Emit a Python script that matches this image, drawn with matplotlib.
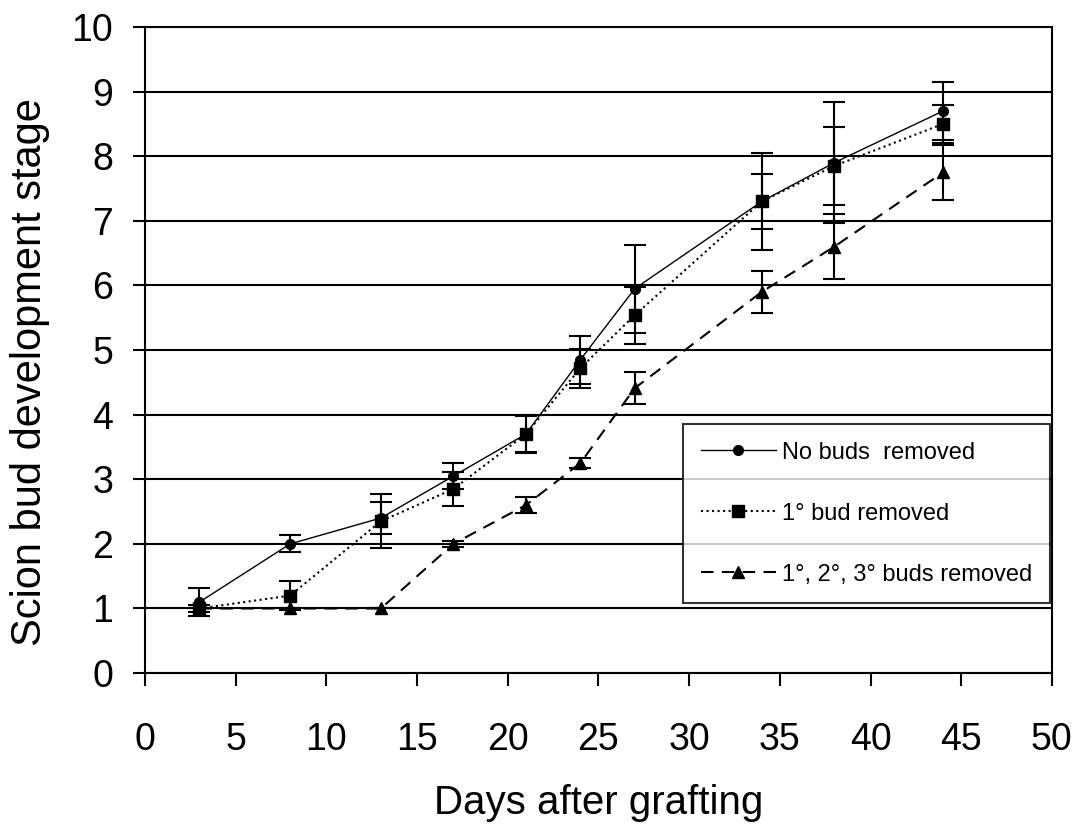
import matplotlib
matplotlib.use("Agg")
import matplotlib.pyplot as plt

plt.rcParams['font.family'] = ['Liberation Sans', 'DejaVu Sans']

# days after grafting
days = [3, 8, 13, 17, 21, 24, 27, 34, 38, 44]

# bud development stage, mean and error
no_buds = [1.1, 2.0, 2.4, 3.05, 3.7, 4.85, 5.95, 7.3, 7.9, 8.7]
no_buds_err = [0.22, 0.13, 0.25, 0.2, 0.28, 0.37, 0.68, 0.75, 0.94, 0.45]

one_bud = [1.0, 1.2, 2.35, 2.85, 3.7, 4.72, 5.54, 7.3, 7.85, 8.5]
one_bud_err = [0.05, 0.22, 0.42, 0.27, 0.3, 0.3, 0.44, 0.42, 0.6, 0.3]

three_buds = [1.0, 1.0, 1.0, 2.0, 2.6, 3.25, 4.41, 5.9, 6.6, 7.75]
three_buds_err = [0.0, 0.0, 0.0, 0.05, 0.12, 0.08, 0.25, 0.32, 0.5, 0.42]

labels = ['No buds  removed', '1° bud removed', '1°, 2°, 3° buds removed']

fig = plt.figure(figsize=(10.8, 8.31), dpi=100)
ax = fig.add_axes([0.1343, 0.190, 0.8397, 0.7775])

for y in range(0, 11):
    ax.axhline(y, color='black', lw=1.5, zorder=0)

l1 = ax.errorbar(days, no_buds, yerr=no_buds_err, color='black', ls='-', lw=1.0,
                 marker='o', ms=7, capsize=8, elinewidth=1.5, capthick=1.5,
                 label=labels[0])
l2 = ax.errorbar(days, one_bud, yerr=one_bud_err, color='black', ls=':', lw=1.5,
                 marker='s', ms=8, capsize=8, elinewidth=1.5, capthick=1.5,
                 label=labels[1])
l3 = ax.errorbar(days, three_buds, yerr=three_buds_err, color='black', ls=(0, (6, 4)),
                 lw=1.5, marker='^', ms=8, capsize=8, elinewidth=1.5, capthick=1.5,
                 label=labels[2])

ax.set_xlim(0, 50)
ax.set_ylim(0, 10)
ax.set_xticks(range(0, 51, 5))
ax.set_yticks(range(0, 11))
ax.tick_params(axis='both', direction='out', length=9, width=1.5, labelsize=27,
               pad=14)
ax.tick_params(axis='x', pad=26)
for s in ax.spines.values():
    s.set_linewidth(1.5)

ax.set_xlabel('Days after grafting', fontsize=29, labelpad=19)
ax.set_ylabel('Scion bud development stage', fontsize=30)
ax.yaxis.set_label_coords(-0.105, 0.466)

handles = [h[0] for h in (l1, l2, l3)]
leg = ax.legend(handles, labels, loc='lower right', bbox_to_anchor=(0.998, 0.108),
                fontsize=17, frameon=True, fancybox=False, edgecolor='black',
                handlelength=3.2, numpoints=1, labelspacing=1.65,
                borderpad=0.75, handletextpad=0.25, borderaxespad=0)
leg.get_frame().set_linewidth(1.5)

fig.savefig('out.png', dpi=100)
